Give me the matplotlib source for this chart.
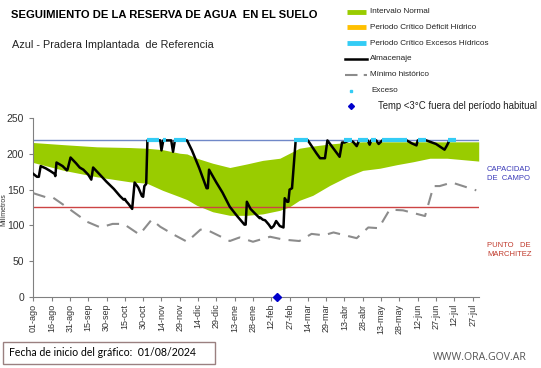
import numpy as np
import matplotlib.pyplot as plt
from matplotlib.lines import Line2D
from matplotlib.patches import Rectangle

plt.rcParams['font.family'] = ['Liberation Sans', 'DejaVu Sans']

# days counted from 01/08/2024
tick_days = np.arange(0, 361, 15)
tick_labels = ['01-ago', '16-ago', '31-ago', '15-sep', '30-sep', '15-oct', '30-oct',
               '14-nov', '29-nov', '14-dic', '29-dic', '13-ene', '28-ene', '12-feb',
               '27-feb', '14-mar', '29-mar', '13-abr', '28-abr', '13-may', '28-may',
               '12-jun', '27-jun', '12-jul', '27-jul']

# intervalo normal (band)
band_days = [0, 25, 52, 79, 93, 106, 120, 126, 134, 147, 161, 175, 188, 202, 210,
             218, 229, 243, 257, 270, 284, 298, 311, 325, 339, 352, 365]
band_up = [216, 213, 210, 209, 208, 206, 201, 200, 194, 187, 181, 186, 191, 194, 201,
           208, 211, 214, 216, 217, 217, 217, 217, 217, 217, 217, 217]
band_low = [188, 177, 168, 161, 159, 149, 140, 136, 128, 119, 114, 114, 116, 121, 126,
            135, 142, 156, 168, 177, 180, 185, 189, 194, 194, 192, 190]

# almacenaje
alm_days = [0, 3, 4.5, 6, 10, 14, 17.5, 18, 19, 24, 27.5, 28, 30.5, 35, 38, 41, 45,
            47.5, 49, 54, 60, 66, 71, 74, 75, 76, 78, 81, 83, 86, 89, 90, 91, 92.5,
            93.5, 104, 105, 106.5, 113, 114.5, 116, 126, 130, 136, 142, 143, 144, 150,
            155, 161, 167, 173, 174, 175, 178, 182, 185.5, 186, 188, 190, 193, 195,
            197, 199, 202, 205, 206, 208, 209, 210, 212, 215, 225, 232, 235, 239, 241,
            251, 253, 255, 259, 262, 265, 267, 274, 275.6, 277, 281, 283, 286, 306,
            310, 314, 315, 322, 330, 337, 339, 341, 343]
alm_vals = [172, 168, 168, 183, 180, 176, 172, 169, 188, 183, 177, 178, 195, 187, 181,
            178, 171, 164, 181, 172, 161, 151, 141, 136, 137, 134, 130, 123, 160, 153,
            141, 140, 155, 158, 219, 219, 205, 219, 219, 203, 219, 219, 205, 180, 152,
            152, 178, 160, 146, 126, 113, 101, 101, 133, 123, 116, 110, 111, 108, 107,
            101, 96, 99, 106, 99, 97, 138, 133, 133, 150, 152, 219, 219, 201, 194,
            194, 219, 196, 216, 216, 219, 217, 211, 219, 219, 213, 219, 219, 214, 219,
            219, 215, 212, 219, 219, 214, 206, 212, 219, 219]

# minimo historico
min_days = [0, 11, 16, 27, 44, 55, 65, 74, 87, 97, 104, 115, 126, 137, 143, 161, 169,
            180, 194, 205, 218, 228, 238, 246, 265, 274.5, 283, 292, 303, 321, 328,
            333, 343, 363]
min_vals = [145, 139, 139, 126, 105, 97, 102, 102, 87, 108, 98, 87, 77, 94, 93, 78, 83,
            77, 84, 80, 78, 88, 86, 90, 82, 97, 96, 122, 121, 113, 155, 155, 160, 149]

# exceso periods (start, end day)
exc_start = [93, 106, 115, 214, 255, 266, 277, 286, 315, 340]
exc_end = [103, 109, 125, 225, 261, 274, 281, 306, 322, 346]

# temp < 3 C out of season
frost_days = [200]
frost_vals = [0]

cap_campo = 219
marchitez = 125

fig = plt.figure(figsize=(5.41, 3.68), dpi=100)
ax = fig.add_axes([0.0616, 0.1938, 0.8244, 0.4848])

ax.fill_between(band_days, band_low, band_up, color='#99cc00', lw=0, zorder=1)
ax.axhline(cap_campo, color='#7088c8', lw=1, zorder=2)
ax.axhline(marchitez, color='#cc4444', lw=1, zorder=2)
ax.plot(min_days, min_vals, color='#8c8c8c', lw=1.5, dashes=(6, 4), zorder=3)
ax.plot(alm_days, alm_vals, color='black', lw=1.8, zorder=4)
ax.hlines([cap_campo] * len(exc_start), exc_start, exc_end, color='#33ccf5', lw=3,
          zorder=5)
ax.plot(frost_days, frost_vals, 'D', color='#0000cc', ms=4, zorder=6, clip_on=False)

ax.set_xlim(0, 365.5)
ax.set_ylim(0, 250)
ax.set_yticks(range(0, 251, 50))
ax.set_xticks(tick_days)
ax.set_xticklabels(tick_labels, rotation=90, fontsize=6.5, color='#333333')
ax.tick_params(axis='y', labelsize=7.5, labelcolor='#333333', length=3, color='#808080')
ax.tick_params(axis='x', length=3, color='#808080', pad=2)
for s in ['top', 'right']:
    ax.spines[s].set_visible(False)
for s in ['left', 'bottom']:
    ax.spines[s].set_color('#808080')

fig.text(4 / 541, 1 - 210 / 368, 'Milímetros', rotation=90, fontsize=5, ha='center',
         va='center', color='#333333')

# titles
fig.text(11 / 541, 1 - 15 / 368, 'SEGUIMIENTO DE LA RESERVA DE AGUA  EN EL SUELO',
         fontsize=8.1, fontweight='bold', va='center')
fig.text(12 / 541, 1 - 45 / 368, 'Azul - Pradera Implantada  de Referencia',
         fontsize=7.8, va='center', color='#222222')

# right side labels
fig.text(487 / 541, 1 - 174 / 368, 'CAPACIDAD\nDE  CAMPO', fontsize=5.5,
         color='#3a3ab8', va='center', linespacing=1.3)
fig.text(487 / 541, 1 - 250 / 368, 'PUNTO   DE\nMARCHITEZ', fontsize=5.5,
         color='#c0392b', va='center', linespacing=1.3)

# legend
leg = [('Intervalo Normal', 'bar', '#99cc00', 370, 5.9),
       ('Periodo Crítico Déficit Hídrico', 'bar', '#ffc000', 370, 5.9),
       ('Periodo Crítico Excesos Hídricos', 'bar', '#33ccf5', 370, 5.9),
       ('Almacenaje', 'line', 'black', 370, 5.9),
       ('Mínimo histórico', 'dash', '#8c8c8c', 370, 5.9),
       ('Exceso', 'dot', '#33ccf5', 371, 5.9),
       ('Temp <3°C fuera del período habitual', 'diamond', '#0000cc', 378, 6.9)]
W, H = 541, 368
for i, (lab, kind, col, tx, fs) in enumerate(leg):
    y = 1 - (11.5 + i * 15.8) / H
    if kind == 'bar':
        fig.add_artist(Line2D([347 / W, 366 / W], [y, y], color=col, lw=3.5,
                              solid_capstyle='butt'))
    elif kind == 'line':
        fig.add_artist(Line2D([345 / W, 367 / W], [y, y], color=col, lw=1.8))
    elif kind == 'dash':
        fig.add_artist(Line2D([345 / W, 367 / W], [y, y], color=col, lw=1.5,
                              dashes=(6, 3)))
    elif kind == 'dot':
        fig.add_artist(Line2D([351 / W], [y], marker='s', color=col, ms=2, lw=0))
    else:
        fig.add_artist(Line2D([351 / W], [y], marker='D', color=col, ms=3, lw=0))
    fig.text(tx / W, y, lab, fontsize=fs, va='center', color='#222222')

# bottom info box
fig.add_artist(Rectangle((3 / W, 1 - 364 / H), 212 / W, 22 / H, transform=fig.transFigure,
                         fill=False, edgecolor='#9a8080', lw=1))
fig.text(9 / W, 1 - 353 / H, 'Fecha de inicio del gráfico:  01/08/2024', fontsize=7.6,
         va='center', family=['Lato', 'DejaVu Sans'])
fig.text(527 / W, 1 - 357 / H, 'WWW.ORA.GOV.AR', fontsize=7.6, va='center', ha='right',
         color='#555555', family=['Open Sans', 'DejaVu Sans'])

fig.savefig('out.png', dpi=100)
